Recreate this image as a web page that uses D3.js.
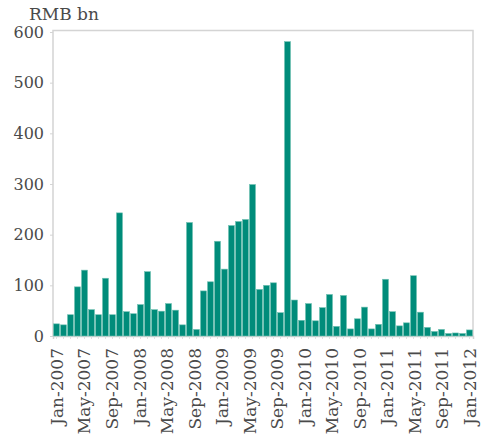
<!DOCTYPE html>
<html>
<head>
<meta charset="utf-8">
<script src="https://cdn.jsdelivr.net/npm/d3@7"></script>
<style>
  body { margin: 0; background: #fff; }
  text { font-family: "DejaVu Serif", serif; fill: #4a4a4a; }
</style>
</head>
<body>
<div id="chart"></div>
<script>
const monthNames = ["Jan", "Feb", "Mar", "Apr", "May", "Jun", "Jul", "Aug", "Sep", "Oct", "Nov", "Dec"]
const years = [2007, 2008, 2009, 2010, 2011]

// monthly values, RMB bn
const values2007 = [24, 22, 42, 97, 130, 52, 42, 114, 42, 243, 48, 44]
const values2008 = [62, 127, 52, 49, 64, 51, 22, 224, 13, 89, 107, 187]
const values2009 = [132, 218, 226, 230, 299, 92, 100, 105, 46, 581, 71, 31]
const values2010 = [64, 30, 56, 82, 19, 80, 14, 34, 57, 14, 23, 112]
const values2011 = [48, 20, 26, 119, 47, 17, 9, 13, 5, 6, 5, 12]

const tickLabels = ["Jan-2007", "May-2007", "Sep-2007", "Jan-2008", "May-2008", "Sep-2008",
  "Jan-2009", "May-2009", "Sep-2009", "Jan-2010", "May-2010", "Sep-2010",
  "Jan-2011", "May-2011", "Sep-2011", "Jan-2012"]
const yTicks = [0, 100, 200, 300, 400, 500, 600]

const allValues = [values2007, values2008, values2009, values2010, values2011]
const data = []
years.forEach((yr, i) => {
  monthNames.forEach((m, j) => {
    data.push({ month: m + "-" + yr, value: allValues[i][j] })
  })
})

const width = 490
const height = 436
const margin = { top: 32, right: 17, bottom: 100, left: 53 }

const svg = d3.select("#chart").append("svg")
  .attr("width", width)
  .attr("height", height)

const x = d3.scaleBand()
  .domain(data.map((d) => d.month))
  .range([margin.left, width - margin.right])
  .paddingInner(0.14)
  .paddingOuter(0.07)

const y = d3.scaleLinear()
  .domain([0, 600])
  .range([height - margin.bottom, margin.top])

// labels sit under the first and last bar, spread evenly
const xLabel = d3.scalePoint()
  .domain(tickLabels)
  .range([x(data[0].month) + x.bandwidth() / 2, x(data[data.length - 1].month) + x.bandwidth() / 2])

const gray = "#d4d4d4"

// frame
svg.append("path")
  .attr("d", "M" + margin.left + "," + (height - margin.bottom) +
    "V" + (margin.top - 1.5) + "H" + (width - margin.right) + "V" + (height - margin.bottom))
  .attr("fill", "none")
  .attr("stroke", gray)
  .attr("stroke-width", 1.5)

// small ticks under every month
const monthAxis = svg.append("g")
  .attr("transform", "translate(0," + (height - margin.bottom) + ")")
  .call(d3.axisBottom(x).tickSize(3).tickFormat(""))
monthAxis.select(".domain").attr("stroke", gray).attr("stroke-width", 1.5)
monthAxis.selectAll(".tick line").attr("stroke", "#e0e0e0")

svg.append("g")
  .selectAll("rect")
  .data(data)
  .join("rect")
    .attr("x", (d) => x(d.month))
    .attr("y", (d) => y(d.value))
    .attr("width", x.bandwidth())
    .attr("height", (d) => y(0) - y(d.value))
    .attr("fill", "#008c7a")
    .attr("stroke", "#72c2b4")
    .attr("stroke-width", 0.6)

const yAxis = svg.append("g")
  .attr("transform", "translate(" + margin.left + ",0)")
  .call(d3.axisLeft(y).tickValues(yTicks).tickSize(3).tickPadding(6))
yAxis.select(".domain").remove()
yAxis.selectAll(".tick line").attr("stroke", gray)
yAxis.selectAll(".tick text")
  .attr("font-size", 16)
  .attr("font-family", "DejaVu Serif")
  .attr("fill", "#4a4a4a")

const xAxis = svg.append("g")
  .attr("transform", "translate(0," + (height - margin.bottom) + ")")
  .call(d3.axisBottom(xLabel).tickSize(0).tickPadding(0))
xAxis.select(".domain").remove()
xAxis.selectAll(".tick text")
  .attr("font-size", 17)
  .attr("font-family", "DejaVu Serif")
  .attr("fill", "#4a4a4a")
  .attr("transform", "rotate(-90)")
  .attr("text-anchor", "end")
  .attr("x", -12)
  .attr("y", 0)
  .attr("dy", "0.35em")

svg.append("text")
  .attr("x", 29)
  .attr("y", 20)
  .attr("font-size", 17)
  .text("RMB bn")
</script>
</body>
</html>
